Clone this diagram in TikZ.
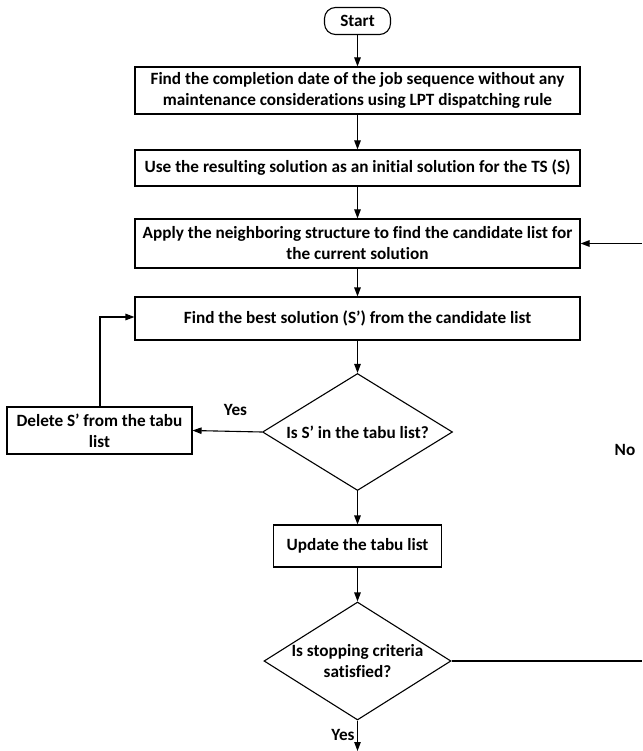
\documentclass[tikz,border=0pt]{standalone}
\usepackage{fontspec}
\setmainfont[Ligatures={NoCommon,NoContextual,NoRequired}]{Carlito}
\usetikzlibrary{arrows.meta,shapes.geometric}
\begin{document}
\begin{tikzpicture}[x=1pt,y=-1pt,
  every node/.style={font=\bfseries\fontsize{17.2}{21}\selectfont},
  procbox/.style={draw,line width=1.1pt,align=center,inner sep=0pt},
  decide/.style={draw,line width=1.1pt,diamond,inner sep=0pt,aspect=1.6},
  flow/.style={line width=1.1pt,-{Triangle[length=9pt,width=6.5pt]}},
  plain/.style={line width=1.1pt},
  lbl/.style={inner sep=0pt,align=center}]
\useasboundingbox (0,0) rectangle (642,751);
\node[procbox,rounded corners=11pt,minimum width=66pt,minimum height=27pt] (start) at (357.5,21) {Start};
\node[procbox,minimum width=445pt,minimum height=47pt] (b1) at (357.5,90.5) {Find the completion date of the job sequence without any\\maintenance considerations using LPT dispatching rule};
\node[procbox,minimum width=445pt,minimum height=36pt] (b2) at (357.5,168) {Use the resulting solution as an initial solution for the TS (S)};
\node[procbox,minimum width=445pt,minimum height=49pt] (b3) at (357.5,243.5) {Apply the neighboring structure to find the candidate list for\\the current solution};
\node[procbox,minimum width=445pt,minimum height=43pt] (b4) at (357.5,318.5) {Find the best solution (S’) from the candidate list};
\node[decide,minimum width=190pt,minimum height=117pt] (d1) at (357.5,432) {};
\node[lbl] (d1t) at (357.5,432) {Is S’ in the tabu list?};
\node[procbox,minimum width=185pt,minimum height=47pt] (del) at (99.5,430.5) {Delete S’ from the tabu\\list};
\node[procbox,minimum width=168pt,minimum height=42pt] (upd) at (357.5,546) {Update the tabu list};
\node[decide,minimum width=187pt,minimum height=118pt] (d2) at (357.5,661) {};
\node[lbl] (d2t) at (357.5,661) {Is stopping criteria\\satisfied?};
\node[lbl] (yes1) at (235.5,410) {Yes};
\node[lbl] (no) at (625,450) {No};
\node[lbl] (yes2) at (343,735) {Yes};
\coordinate (endp) at (357.5,751);
\coordinate (r1) at (642,661);
\coordinate (r2) at (642,243.5);
\coordinate (lk) at (100,317);

\draw[flow] (start.south) -- (b1.north);
\draw[flow] (b1.south) -- (b2.north);
\draw[flow] (b2.south) -- (b3.north);
\draw[flow] (b3.south) -- (b4.north);
\draw[flow] (b4.south) -- (d1.north);
\draw[flow] (d1.west) -- (del.east);
\draw[flow] (del.north -| lk) -- (lk) -- (lk -| b4.west);
\draw[flow] (d1.south) -- (upd.north);
\draw[flow] (upd.south) -- (d2.north);
\draw[flow] (d2.south) -- (endp);
\draw[plain] (d2.east) -- (r1);
\draw[flow] (r2) -- (b3.east);
\end{tikzpicture}
\end{document}
